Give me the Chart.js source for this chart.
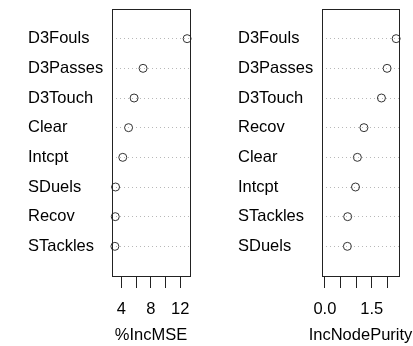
<!DOCTYPE html>
<html>
<head>
<meta charset="utf-8">
<script src="https://cdn.jsdelivr.net/npm/chart.js@4.4.0/dist/chart.umd.min.js"></script>
<style>
  body { margin: 0; background: #fff; }
  canvas { position: absolute; top: 0; }
</style>
</head>
<body>
<canvas id="mseChart" width="206" height="346" style="left:0"></canvas>
<canvas id="purityChart" width="207" height="346" style="left:206px"></canvas>
<script>
// variable importance (top row first)
const mseVars = ['D3Fouls', 'D3Passes', 'D3Touch', 'Clear', 'Intcpt', 'SDuels', 'Recov', 'STackles'];
const mseVals = [12.93, 6.94, 5.72, 4.97, 4.18, 3.2, 3.16, 3.11];
const mseTicks = [4, 6, 8, 10, 12];
const mseTickLabels = ['4', '', '8', '', '12'];

const purityVars = ['D3Fouls', 'D3Passes', 'D3Touch', 'Recov', 'Clear', 'Intcpt', 'STackles', 'SDuels'];
const purityVals = [2.28, 1.99, 1.81, 1.25, 1.04, 0.98, 0.73, 0.72];
const purityTicks = [0, 0.5, 1, 1.5, 2];
const purityTickLabels = ['0.0', '', '', '1.5', ''];

Chart.defaults.font.family = "'Liberation Sans', Arial, sans-serif";
Chart.defaults.font.size = 16.5;
Chart.defaults.color = '#000';

// full frame round the plot area like R's box(), plus the x title
// (drawn here so it can run wider than the frame, as in the original)
const boxPlugin = {
  id: 'box',
  afterDraw(chart, args, opts) {
    const a = chart.chartArea, c = chart.ctx;
    c.save();
    c.strokeStyle = '#222';
    c.lineWidth = 1;
    c.strokeRect(Math.round(a.left) + 0.5, Math.round(a.top) + 0.5,
      Math.round(a.right - a.left), Math.round(a.bottom - a.top));
    c.fillStyle = '#000';
    c.font = "16.5px 'Liberation Sans', Arial, sans-serif";
    c.textAlign = 'center';
    c.textBaseline = 'middle';
    c.fillText(opts.title, (a.left + a.right) / 2, 335);
    c.restore();
  }
};

function dotPanel(id, vars, vals, xmin, ticks, tickLabels, title, pad) {
  const hi = Math.max(...vals);
  const ext = (hi - xmin) * 0.04;
  new Chart(document.getElementById(id), {
    type: 'scatter',
    data: {
      datasets: [{
        data: vals.map((v, i) => ({ x: v, y: i + 1 })),
        pointStyle: 'circle',
        pointRadius: 4,
        borderColor: '#333',
        borderWidth: 1,
        backgroundColor: 'transparent',
        clip: false
      }]
    },
    options: {
      responsive: false,
      animation: false,
      devicePixelRatio: 1,
      layout: { padding: { left: pad.left, right: pad.right, top: 9, bottom: 0 } },
      plugins: { legend: { display: false }, tooltip: { enabled: false }, box: { title: title } },
      scales: {
        x: {
          type: 'linear',
          min: xmin - ext,
          max: hi + ext,
          afterBuildTicks: s => { s.ticks = ticks.map(v => ({ value: v })); },
          afterFit: s => { s.height = 70; s.paddingLeft = 0; s.paddingRight = 0; },
          grid: { drawOnChartArea: false, drawTicks: true, tickLength: 12, tickColor: '#222', tickWidth: 1 },
          border: { display: false },
          ticks: { callback: (v, i) => tickLabels[i], padding: 12, maxRotation: 0, autoSkip: false }
        },
        y: {
          type: 'linear',
          min: 0,
          max: 9,
          reverse: true,
          afterBuildTicks: s => { s.ticks = vars.map((v, i) => ({ value: i + 1 })); },
          afterFit: s => { s.width = pad.axis; s.paddingTop = 0; s.paddingBottom = 0; },
          grid: { drawTicks: false, color: '#b8b8b8', lineWidth: 1 },
          border: { display: false, dash: [1, 3] },
          ticks: { callback: (v, i) => vars[i], crossAlign: 'far', autoSkip: false }
        }
      }
    },
    plugins: [boxPlugin]
  });
}

dotPanel('mseChart', mseVars, mseVals, Math.min(...mseVals), mseTicks, mseTickLabels, '%IncMSE',
  { left: 28, right: 16, axis: 84 });
dotPanel('purityChart', purityVars, purityVals, 0, purityTicks, purityTickLabels, 'IncNodePurity',
  { left: 32, right: 14, axis: 84 });
</script>
</body>
</html>
